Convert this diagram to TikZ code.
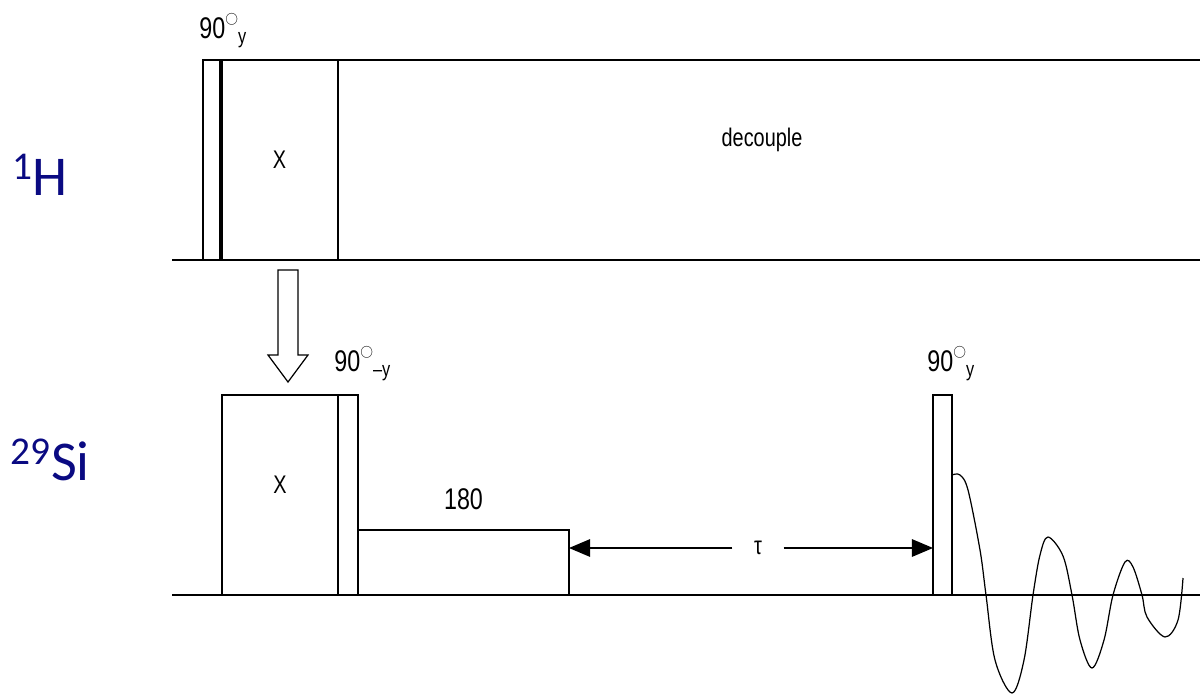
\documentclass[tikz,border=0pt]{standalone}
\usepackage{fontspec}
\setmainfont{Liberation Sans}
\newfontfamily\narrow[FakeStretch=0.78]{Liberation Sans}
\newfontfamily\calib{Carlito}
\usepackage{tikz}
\usetikzlibrary{positioning, arrows.meta, calc}
\definecolor{nucblue}{RGB}{10,10,130}
\def\px{0.02cm}
\newcommand{\dg}{\raisebox{1.05ex}{\scalebox{0.42}{$\bigcirc$}}}

\begin{document}
\begin{tikzpicture}[x=\px, y=-\px,
          line width=0.7pt,
          pulse/.style={draw, inner sep=0pt, outer sep=0pt, anchor=south west},
          lbl/.style={font=\narrow\fontsize{17}{20}\selectfont, inner sep=1pt},
          small/.style={font=\narrow\fontsize{14.5}{17}\selectfont},
          nuc/.style={font=\calib\fontsize{32}{36}\selectfont, text=nucblue},
          ar/.style={-{Triangle[length=12pt, width=10pt]}}]
        \useasboundingbox (0,0) rectangle (1200,696);
        % channel base lines
        \coordinate (h0) at (172,260); \coordinate (h1) at (1200,260);
        \coordinate (s0) at (172,595); \coordinate (s1) at (1200,595);
        \draw (h0) -- (h1); \draw (s0) -- (s1);
        \node[nuc] (hlab) at (40,175) {\textsuperscript{1}H};
        \node[nuc] (silab) at (50,460) {\textsuperscript{29}Si};
        % 1H channel
        \node[pulse, small, minimum width=18*\px, minimum height=200*\px] (hp) at (203,260) {};
        \node[pulse, small, minimum width=117*\px, minimum height=200*\px] (hx) at (221,260) {X};
        \draw[line width=1.8pt] (hx.south west) -- (hx.north west);
        \coordinate (dend) at (1200,60);
        \draw (hx.north east) -- (dend);
        \node[small] (dec) at (762,140) {decouple};
        \node[lbl, above=10*\px of hp.north west, anchor=south west, xshift=-6*\px] (l1) {90\dg\textsubscript{y}};
        % transfer
        \draw (278,270) -- (278,355) -- (268,355) -- (288,382) -- (308,355) -- (298,355) -- (298,270) -- cycle;
        % 29Si channel
        \node[pulse, minimum width=116*\px, minimum height=200*\px] (sx) at (222,595) {};
        \node[small] (sxl) at (280,485) {X};
        \node[pulse, minimum width=20*\px, minimum height=200*\px] (sp1) at (338,595) {};
        \node[pulse, minimum width=211*\px, minimum height=65*\px] (s180) at (358,595) {};
        \node[lbl, above=18*\px of s180] (l180) {180};
        \node[pulse, minimum width=19*\px, minimum height=200*\px] (sp2) at (933,595) {};
        \node[lbl, above=12*\px of sp1.north west, anchor=south west, xshift=-6*\px] (l2) {90\dg\textsubscript{–y}};
        \node[lbl, above=12*\px of sp2.north west, anchor=south west, xshift=-8*\px] (l3) {90\dg\textsubscript{y}};
        % delay
        \node[small, minimum width=50*\px] (tau) at (758,548) {τ};
        \draw[ar] (tau.west) -- (tau.west -| s180.east);
        \draw[ar] (tau.east) -- (tau.east -| sp2.west);
        % FID
        \draw plot[smooth, tension=0.55] coordinates {(952,475) (960,475) (968,490) (980,550) (986,595)
          (995,660) (1012,693) (1024,660) (1033,595) (1040,555) (1048,537) (1063,556) (1072,595)
          (1080,640) (1092,668) (1104,640) (1113,595) (1125,562) (1133,567) (1142,595) (1147,617)
          (1165,637) (1178,620) (1183,578)};
      \end{tikzpicture}
\end{document}
